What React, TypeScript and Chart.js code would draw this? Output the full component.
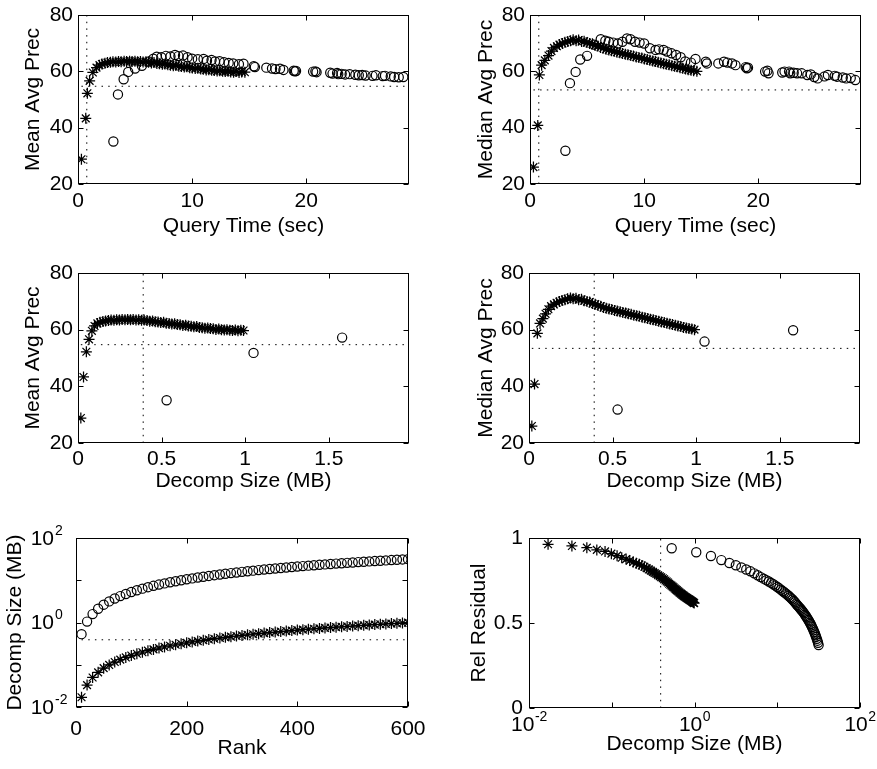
import React, { useEffect, useRef } from "react";
import { Chart, registerables } from "chart.js";

Chart.register(...registerables);

// ---------------- data ----------------
const ranks = [
  10, 20, 30, 40, 50, 60, 70, 80, 90, 100,
  110, 120, 130, 140, 150, 160, 170, 180, 190, 200,
  210, 220, 230, 240, 250, 260, 270, 280, 290, 300,
  310, 320, 330, 340, 350, 360, 370, 380, 390, 400,
  410, 420, 430, 440, 450, 460, 470, 480, 490, 500,
  510, 520, 530, 540, 550, 560, 570, 580, 590, 600,
];

// SDD (asterisks)
const sddSize = [
  0.017, 0.033, 0.050, 0.066, 0.083, 0.099, 0.116, 0.132, 0.149, 0.165,
  0.182, 0.198, 0.215, 0.231, 0.248, 0.264, 0.281, 0.297, 0.314, 0.330,
  0.347, 0.363, 0.380, 0.396, 0.413, 0.429, 0.446, 0.462, 0.479, 0.495,
  0.512, 0.528, 0.545, 0.561, 0.578, 0.594, 0.611, 0.627, 0.644, 0.660,
  0.677, 0.693, 0.710, 0.726, 0.743, 0.759, 0.776, 0.792, 0.809, 0.825,
  0.842, 0.858, 0.875, 0.891, 0.908, 0.924, 0.941, 0.957, 0.974, 0.990,
];
const sddTime = [
  0.30, 0.68, 0.82, 1.02, 1.30, 1.62, 1.88, 2.10, 2.36, 2.58,
  2.84, 3.06, 3.31, 3.55, 3.78, 4.04, 4.26, 4.52, 4.74, 4.99,
  5.22, 5.47, 5.70, 5.95, 6.18, 6.43, 6.66, 6.91, 7.14, 7.39,
  7.62, 7.87, 8.10, 8.35, 8.58, 8.83, 9.06, 9.31, 9.54, 9.79,
  10.02, 10.27, 10.50, 10.75, 10.98, 11.23, 11.46, 11.71, 11.94, 12.19,
  12.42, 12.67, 12.90, 13.15, 13.38, 13.63, 13.86, 14.11, 14.34, 14.62,
];
const sddMeanPrec = [
  28.8, 43.3, 52.2, 56.6, 59.6, 61.3, 62.2, 62.6, 62.9, 63.1,
  63.2, 63.4, 63.3, 63.5, 63.4, 63.6, 63.5, 63.6, 63.5, 63.6,
  63.4, 63.5, 63.3, 63.4, 63.2, 63.0, 63.1, 62.8, 62.7, 62.5,
  62.6, 62.3, 62.2, 62.0, 62.1, 61.8, 61.7, 61.5, 61.6, 61.3,
  61.2, 61.0, 61.1, 60.8, 60.7, 60.5, 60.6, 60.4, 60.3, 60.1,
  60.2, 60.0, 59.9, 60.0, 59.8, 59.7, 59.9, 59.6, 59.8, 59.7,
];
const sddMedianPrec = [
  26.0, 40.8, 58.7, 62.2, 63.9, 65.6, 67.2, 68.3, 68.9, 69.5,
  69.9, 70.3, 70.6, 70.9, 71.2, 70.9, 71.1, 70.6, 70.7, 70.2,
  69.9, 69.8, 69.2, 69.0, 68.5, 68.3, 67.8, 67.6, 67.3, 67.1,
  66.8, 66.6, 66.3, 66.1, 65.9, 65.6, 65.4, 65.1, 64.9, 64.7,
  64.4, 64.2, 63.9, 63.7, 63.5, 63.2, 63.0, 62.7, 62.5, 62.3,
  62.0, 61.8, 61.6, 61.3, 61.1, 60.8, 60.6, 60.4, 60.2, 60.0,
];
const sddResidual = [
  0.963, 0.953, 0.943, 0.930, 0.921, 0.908, 0.896, 0.884, 0.876, 0.867,
  0.859, 0.852, 0.845, 0.838, 0.831, 0.823, 0.815, 0.808, 0.801, 0.794,
  0.788, 0.781, 0.775, 0.769, 0.763, 0.757, 0.750, 0.744, 0.738, 0.731,
  0.725, 0.720, 0.714, 0.709, 0.703, 0.698, 0.693, 0.688, 0.684, 0.679,
  0.675, 0.671, 0.667, 0.663, 0.660, 0.656, 0.653, 0.650, 0.647, 0.644,
  0.641, 0.639, 0.636, 0.634, 0.631, 0.628, 0.626, 0.623, 0.620, 0.617,
];

// SVD (circles)
const svdSize = [
  0.53, 1.05, 1.58, 2.11, 2.64, 3.16, 3.69, 4.22, 4.74, 5.27,
  5.80, 6.32, 6.85, 7.38, 7.91, 8.43, 8.96, 9.49, 10.01, 10.54,
  11.07, 11.59, 12.12, 12.65, 13.18, 13.70, 14.23, 14.76, 15.28, 15.81,
  16.34, 16.86, 17.39, 17.92, 18.45, 18.97, 19.50, 20.03, 20.55, 21.08,
  21.61, 22.13, 22.66, 23.19, 23.72, 24.24, 24.77, 25.30, 25.82, 26.35,
  26.88, 27.40, 27.93, 28.46, 28.99, 29.51, 30.04, 30.57, 31.09, 31.62,
];
const svdTime = [
  3.1, 3.5, 4.0, 4.4, 5.0, 5.6, 6.2, 6.6, 6.9, 7.3,
  7.7, 8.1, 8.5, 8.8, 9.2, 9.6, 10.0, 10.5, 11.0, 11.3,
  11.7, 12.0, 12.4, 12.8, 13.2, 13.6, 14.1, 14.5, 15.4, 15.5,
  16.5, 17.0, 17.3, 17.7, 18.0, 18.9, 19.0, 19.1, 20.6, 20.8,
  20.9, 22.1, 22.3, 22.7, 22.8, 23.1, 23.4, 23.8, 24.3, 24.6,
  24.9, 25.2, 25.8, 26.1, 26.7, 26.9, 27.4, 27.7, 28.1, 28.5,
];
const svdMeanPrec = [
  35.1, 51.8, 57.2, 59.8, 61.0, 62.0, 63.5, 64.5, 65.2, 65.0,
  65.5, 65.3, 65.8, 65.4, 65.6, 65.0, 64.5, 64.3, 64.4, 63.8,
  64.0, 63.5, 63.6, 63.2, 63.0, 62.8, 62.5, 62.7, 61.8, 61.5,
  61.3, 61.0, 60.8, 60.9, 60.5, 60.2, 60.0, 60.1, 59.9, 60.0,
  59.7, 59.5, 59.2, 59.4, 59.0, 59.1, 58.9, 59.0, 58.8, 58.6,
  58.7, 58.5, 58.4, 58.6, 58.3, 58.4, 58.2, 58.0, 57.9, 58.0,
];
const svdMedianPrec = [
  31.8, 55.8, 59.8, 64.2, 65.5, 69.5, 71.4, 70.9, 70.5, 70.2,
  69.9, 70.5, 71.7, 71.4, 70.5, 70.2, 69.9, 68.2, 67.6, 67.8,
  67.6, 67.0, 66.4, 65.8, 65.0, 63.5, 63.1, 64.4, 63.4, 62.8,
  62.8, 63.4, 63.1, 62.8, 62.2, 61.5, 61.1, 61.3, 59.9, 60.2,
  59.3, 59.6, 59.9, 59.9, 59.3, 59.5, 59.3, 59.3, 58.7, 58.9,
  58.0, 57.5, 58.2, 58.7, 58.4, 58.1, 57.8, 57.5, 57.6, 56.9,
];
const svdResidual = [
  0.940, 0.916, 0.894, 0.870, 0.853, 0.840, 0.827, 0.815, 0.804, 0.792,
  0.781, 0.770, 0.761, 0.752, 0.744, 0.736, 0.728, 0.720, 0.712, 0.704,
  0.696, 0.688, 0.681, 0.674, 0.667, 0.660, 0.652, 0.645, 0.638, 0.630,
  0.622, 0.614, 0.606, 0.599, 0.592, 0.585, 0.578, 0.571, 0.564, 0.557,
  0.549, 0.541, 0.534, 0.526, 0.518, 0.510, 0.502, 0.494, 0.485, 0.476,
  0.467, 0.458, 0.448, 0.438, 0.428, 0.418, 0.407, 0.396, 0.384, 0.370,
];

// reference (dotted) lines
const refQueryTime = 0.77;
const refSize = 0.39;
const refMeanPrec = 54.7;
const refMedianPrec = 53.4;

// ticks
const timeTicks = [0, 10, 20];
const precTicks = [20, 40, 60, 80];
const sizeTicks = [0, 0.5, 1, 1.5];
const rankTicks = [0, 200, 400, 600];
const residTicks = [0, 0.5, 1];
const logTicks = [0.01, 0.1, 1, 10, 100];
const logTickLabels: Record<string, string> = { "0.01": "-2", "1": "0", "100": "2" };

// ---------------- drawing ----------------
const W = 877;
const H = 769;
const FONT = '"Liberation Sans", Arial, Helvetica, sans-serif';
const FS = 21;
const EXP_FS = 14;

const pts = (xs: number[], ys: number[]) => xs.map((x, i) => ({ x, y: ys[i] }));

type Panel = {
  area: { L: number; R: number; T: number; B: number };
  x: { type: string; min: number; max: number; ticks: number[] };
  y: { type: string; min: number; max: number; ticks: number[] };
  star: { x: number; y: number }[];
  circle: { x: number; y: number }[];
  refs: { x: number; y: number }[][];
  xTitle: string;
  yTitle: string;
  yTitleX: number;
  xTickDy: number;
  xTitleDy: number;
  yTickGap: number;
};

function framePlugin(p: Panel) {
  return {
    id: "frame",
    afterDatasetsDraw(chart: any) {
      const ctx: CanvasRenderingContext2D = chart.ctx;
      const a = chart.chartArea;
      const xs = chart.scales.x;
      const ys = chart.scales.y;
      ctx.save();
      ctx.strokeStyle = "#000";
      ctx.lineWidth = 1;
      ctx.setLineDash([]);
      const l = Math.round(a.left) + 0.5;
      const r = Math.round(a.right) - 0.5;
      const t = Math.round(a.top) + 0.5;
      const b = Math.round(a.bottom) - 0.5;
      ctx.strokeRect(l, t, r - l, b - t);
      ctx.beginPath();
      p.x.ticks.forEach((v) => {
        const px = Math.round(xs.getPixelForValue(v)) + 0.5;
        ctx.moveTo(px, b);
        ctx.lineTo(px, b - 5);
        ctx.moveTo(px, t);
        ctx.lineTo(px, t + 5);
      });
      p.y.ticks.forEach((v) => {
        const py = Math.round(ys.getPixelForValue(v)) + 0.5;
        ctx.moveTo(l, py);
        ctx.lineTo(l + 5, py);
        ctx.moveTo(r, py);
        ctx.lineTo(r - 5, py);
      });
      ctx.stroke();

      ctx.fillStyle = "#000";
      ctx.textBaseline = "middle";
      // x tick labels
      p.x.ticks.forEach((v) => {
        const px = xs.getPixelForValue(v);
        const py = a.bottom + p.xTickDy;
        if (p.x.type === "logarithmic") {
          const e = logTickLabels[String(v)];
          if (e === undefined) return;
          ctx.font = `${FS}px ${FONT}`;
          const wb = ctx.measureText("10").width;
          ctx.font = `${EXP_FS}px ${FONT}`;
          const we = ctx.measureText(e).width;
          const x0 = px - (wb + we) / 2;
          ctx.textAlign = "left";
          ctx.font = `${FS}px ${FONT}`;
          ctx.fillText("10", x0, py);
          ctx.font = `${EXP_FS}px ${FONT}`;
          ctx.fillText(e, x0 + wb + 0.5, py - 8);
        } else {
          ctx.font = `${FS}px ${FONT}`;
          ctx.textAlign = "center";
          ctx.fillText(String(v), px, py);
        }
      });
      // y tick labels
      p.y.ticks.forEach((v) => {
        const py = ys.getPixelForValue(v);
        if (p.y.type === "logarithmic") {
          const e = logTickLabels[String(v)];
          if (e === undefined) return;
          const bx = a.left - 22;
          ctx.font = `${FS}px ${FONT}`;
          ctx.textAlign = "right";
          ctx.fillText("10", bx, py + 1);
          ctx.font = `${EXP_FS}px ${FONT}`;
          ctx.textAlign = "left";
          ctx.fillText(e, bx + 1, py - 7);
        } else {
          ctx.font = `${FS}px ${FONT}`;
          ctx.textAlign = "right";
          ctx.fillText(String(v), a.left - p.yTickGap, py);
        }
      });
      // titles
      ctx.font = `${FS}px ${FONT}`;
      ctx.textAlign = "center";
      ctx.fillText(p.xTitle, (a.left + a.right) / 2, a.bottom + p.xTitleDy);
      ctx.translate(p.yTitleX, (a.top + a.bottom) / 2);
      ctx.rotate(-Math.PI / 2);
      ctx.fillText(p.yTitle, 0, 0);
      ctx.restore();
    },
  };
}

function makeConfig(p: Panel): any {
  const refSets = p.refs.map((r) => ({
    data: r,
    showLine: true,
    pointRadius: 0,
    borderColor: "#000",
    borderWidth: 1,
    borderDash: [1.5, 5.2],
    fill: false,
  }));
  return {
    type: "scatter",
    data: {
      datasets: [
        ...refSets,
        {
          data: p.star,
          pointStyle: "star",
          pointRadius: 5.5,
          borderColor: "#000",
          backgroundColor: "#000",
          borderWidth: 1.25,
        },
        {
          data: p.circle,
          pointStyle: "circle",
          pointRadius: 4.6,
          borderColor: "#000",
          backgroundColor: "rgba(0,0,0,0)",
          borderWidth: 1.2,
        },
      ],
    },
    options: {
      responsive: false,
      animation: false,
      devicePixelRatio: 1,
      events: [],
      layout: {
        padding: { left: p.area.L, right: W - p.area.R, top: p.area.T, bottom: H - p.area.B },
      },
      plugins: { legend: { display: false }, tooltip: { enabled: false } },
      scales: {
        x: { type: p.x.type, min: p.x.min, max: p.x.max, display: false },
        y: { type: p.y.type, min: p.y.min, max: p.y.max, display: false },
      },
    },
    plugins: [framePlugin(p)],
  };
}

const panels: Panel[] = [
  {
    area: { L: 78, R: 409, T: 15, B: 184 },
    x: { type: "linear", min: 0, max: 29, ticks: timeTicks },
    y: { type: "linear", min: 20, max: 80, ticks: precTicks },
    star: pts(sddTime, sddMeanPrec),
    circle: pts(svdTime, svdMeanPrec),
    refs: [
      [{ x: refQueryTime, y: 20 }, { x: refQueryTime, y: 80 }],
      [{ x: sddTime[0], y: refMeanPrec }, { x: 29, y: refMeanPrec }],
    ],
    xTitle: "Query Time (sec)",
    yTitle: "Mean Avg Prec",
    yTitleX: 33,
    xTickDy: 17.5,
    xTitleDy: 42,
    yTickGap: 5,
  },
  {
    area: { L: 530, R: 861, T: 15, B: 184 },
    x: { type: "linear", min: 0, max: 29, ticks: timeTicks },
    y: { type: "linear", min: 20, max: 80, ticks: precTicks },
    star: pts(sddTime, sddMedianPrec),
    circle: pts(svdTime, svdMedianPrec),
    refs: [
      [{ x: refQueryTime, y: 20 }, { x: refQueryTime, y: 80 }],
      [{ x: sddTime[0], y: refMedianPrec }, { x: 29, y: refMedianPrec }],
    ],
    xTitle: "Query Time (sec)",
    yTitle: "Median Avg Prec",
    yTitleX: 486,
    xTickDy: 17.5,
    xTitleDy: 42,
    yTickGap: 5,
  },
  {
    area: { L: 78, R: 409, T: 273, B: 443 },
    x: { type: "linear", min: 0, max: 1.98, ticks: sizeTicks },
    y: { type: "linear", min: 20, max: 80, ticks: precTicks },
    star: pts(sddSize, sddMeanPrec),
    circle: pts(svdSize, svdMeanPrec),
    refs: [
      [{ x: refSize, y: 20 }, { x: refSize, y: 80 }],
      [{ x: sddSize[0], y: refMeanPrec }, { x: 1.98, y: refMeanPrec }],
    ],
    xTitle: "Decomp Size (MB)",
    yTitle: "Mean Avg Prec",
    yTitleX: 33,
    xTickDy: 16,
    xTitleDy: 38,
    yTickGap: 5,
  },
  {
    area: { L: 529, R: 860, T: 273, B: 443 },
    x: { type: "linear", min: 0, max: 1.98, ticks: sizeTicks },
    y: { type: "linear", min: 20, max: 80, ticks: precTicks },
    star: pts(sddSize, sddMedianPrec),
    circle: pts(svdSize, svdMedianPrec),
    refs: [
      [{ x: refSize, y: 20 }, { x: refSize, y: 80 }],
      [{ x: sddSize[0], y: refMedianPrec }, { x: 1.98, y: refMedianPrec }],
    ],
    xTitle: "Decomp Size (MB)",
    yTitle: "Median Avg Prec",
    yTitleX: 486,
    xTickDy: 16,
    xTitleDy: 38,
    yTickGap: 5,
  },
  {
    area: { L: 76, R: 408, T: 538, B: 707 },
    x: { type: "linear", min: 0, max: 600, ticks: rankTicks },
    y: { type: "logarithmic", min: 0.01, max: 100, ticks: logTicks },
    star: pts(ranks, sddSize),
    circle: pts(ranks, svdSize),
    refs: [[{ x: ranks[0], y: refSize }, { x: 600, y: refSize }]],
    xTitle: "Rank",
    yTitle: "Decomp Size (MB)",
    yTitleX: 15,
    xTickDy: 22,
    xTitleDy: 41,
    yTickGap: 5,
  },
  {
    area: { L: 529, R: 860, T: 538, B: 708 },
    x: { type: "logarithmic", min: 0.01, max: 100, ticks: logTicks },
    y: { type: "linear", min: 0, max: 1, ticks: residTicks },
    star: pts(sddSize, sddResidual),
    circle: pts(svdSize, svdResidual),
    refs: [[{ x: refSize, y: 0 }, { x: refSize, y: 1 }]],
    xTitle: "Decomp Size (MB)",
    yTitle: "Rel Residual",
    yTitleX: 479,
    xTickDy: 17,
    xTitleDy: 36,
    yTickGap: 6,
  },
];

function PanelCanvas({ p }: { p: Panel }) {
  const ref = useRef<HTMLCanvasElement>(null);
  useEffect(() => {
    if (!ref.current) return;
    const chart = new Chart(ref.current, makeConfig(p));
    return () => chart.destroy();
  }, [p]);
  return (
    <canvas
      ref={ref}
      width={W}
      height={H}
      style={{ position: "absolute", left: 0, top: 0, width: W, height: H }}
    />
  );
}

export default function App() {
  return (
    <div style={{ position: "absolute", left: 0, top: 0, width: W, height: H, background: "#fff" }}>
      {panels.map((p, i) => (
        <PanelCanvas key={i} p={p} />
      ))}
    </div>
  );
}
